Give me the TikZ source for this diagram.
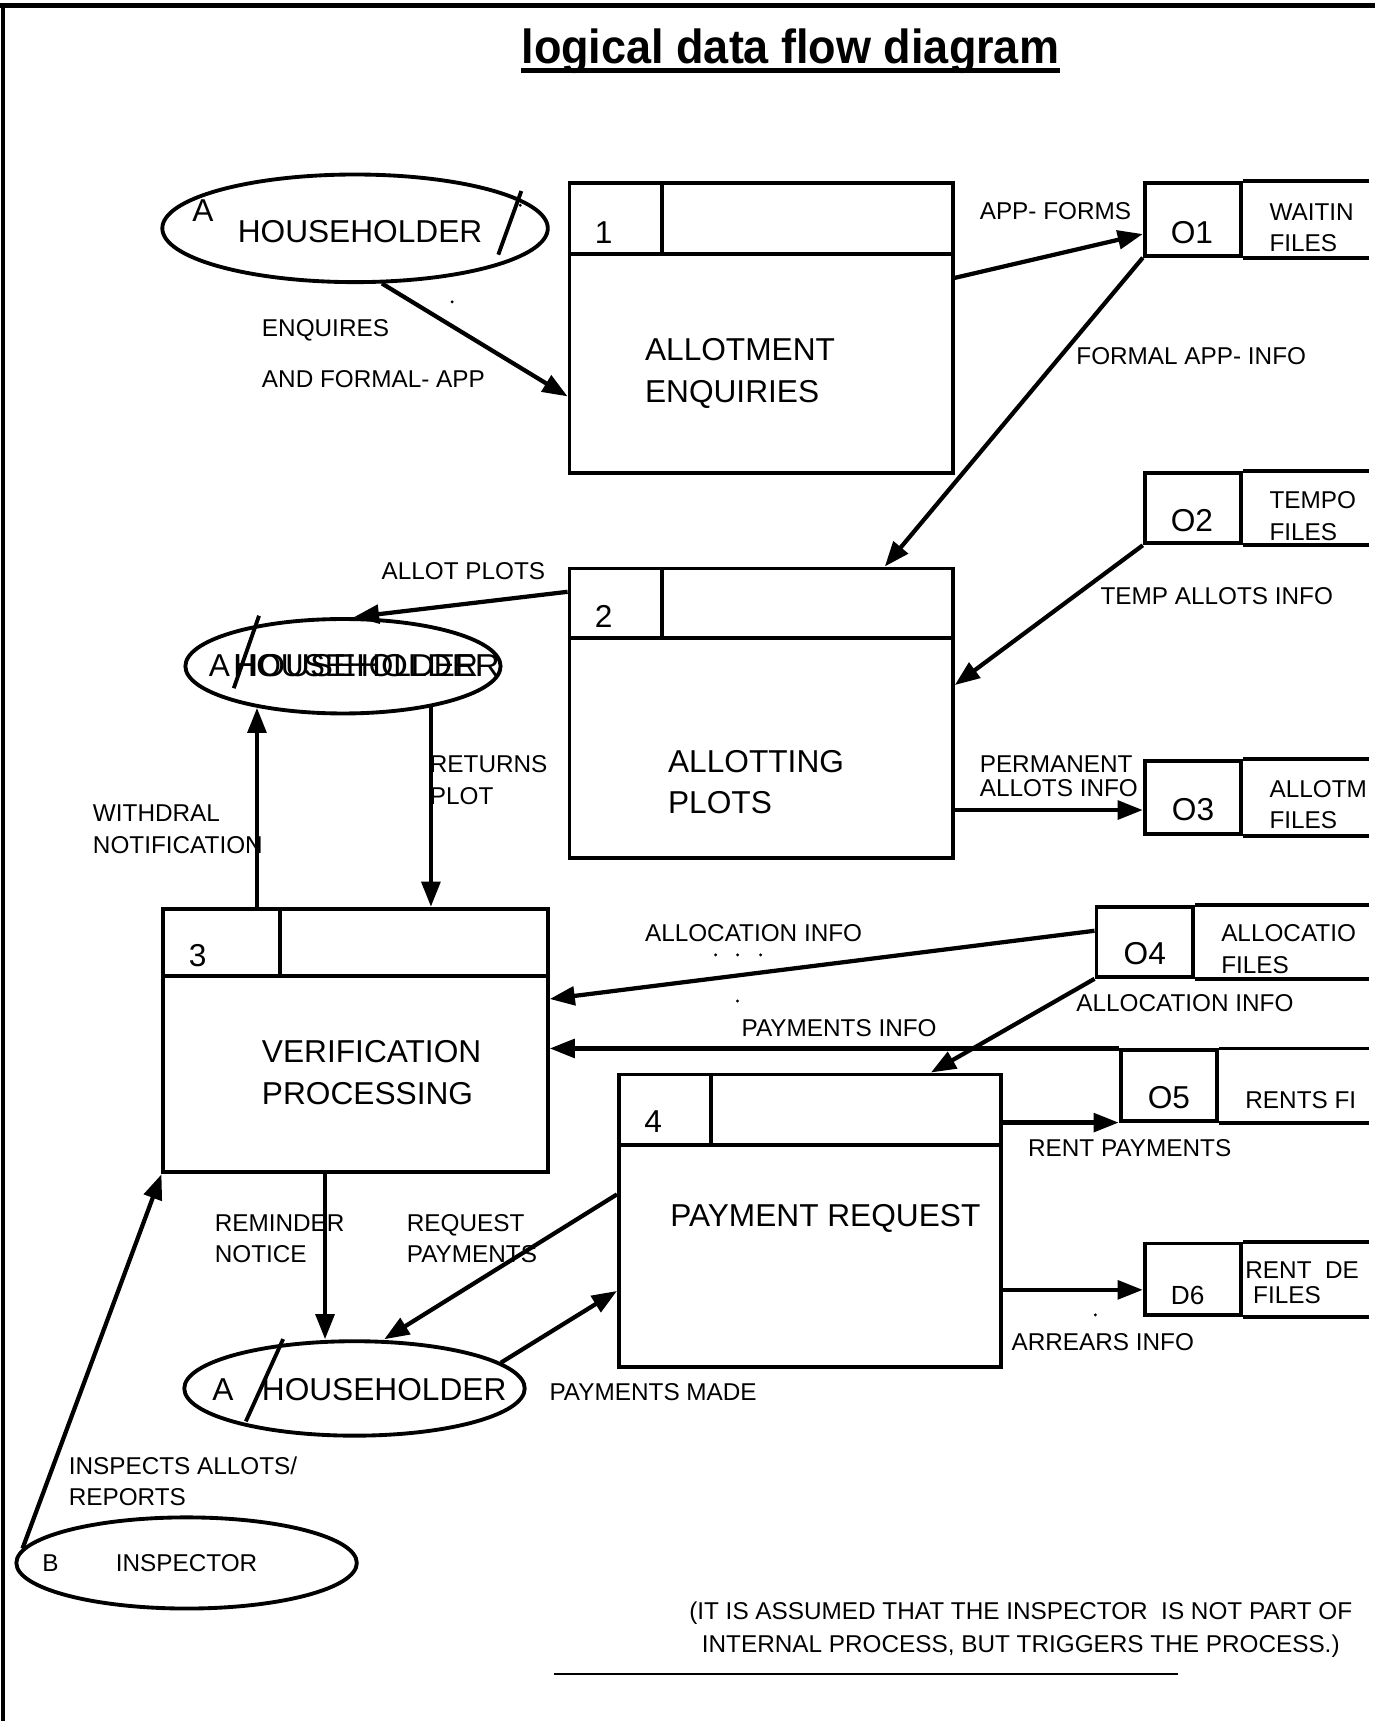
\documentclass[tikz,border=0pt]{standalone}
\usepackage{fontspec}
\setmainfont{Liberation Sans}
\usetikzlibrary{arrows.meta, positioning, calc, shapes.geometric}
\newcommand\lblfont{\fontsize{6.3}{8.2}\selectfont}
\newcommand\bigfont{\fontsize{8.2}{10.8}\selectfont}
\newcommand\ttlfont{\fontsize{12.4}{15}\selectfont\bfseries}
\newcommand\notefont{\fontsize{6.3}{8.5}\selectfont}

\begin{document}
\begin{tikzpicture}[x=0.01cm, y=-0.01cm, >={Triangle[length=6.5pt,width=4.8pt]},
  proc/.style={draw, line width=1pt, inner sep=0, minimum width=3.49cm, minimum height=2.64cm},
  store/.style={draw, line width=1pt, inner sep=0, minimum width=0.88cm, minimum height=0.65cm},
  ent/.style={draw, ellipse, line width=1pt, inner sep=0},
  flow/.style={->, line width=1.1pt},
  lbl/.style={font=\lblfont, inner sep=0, anchor=west, align=left},
  big/.style={font=\bigfont, inner sep=0, anchor=west, align=left}]
  \useasboundingbox (0,0) rectangle (1253,1568);
  \draw[line width=1.3pt] (0,5) -- (1253,5);
  \draw[line width=1pt] (3,5) -- (3,1568);
  \coordinate (rim) at (1247,0);

  \node[font=\ttlfont, inner sep=0] (title) at (720,47) {\scalebox{0.94}[1]{logical data flow diagram}};
  \draw[line width=1.3pt] ([yshift=-0.06cm]title.base west) -- ([yshift=-0.06cm]title.base east);

  % processes
  \node[proc] (p1) at (693.5,299) {};
  \node[proc] (p2) at (693.5,650) {};
  \node[proc, minimum width=3.5cm, minimum height=2.4cm] (p3) at (324,948) {};
  \node[proc, minimum width=3.48cm, minimum height=2.66cm] (p4) at (738,1112) {};
  \foreach \p/\h/\d in {p1/66/86, p2/65/86, p3/63/108, p4/66/86}{
    \draw[line width=1pt] ($(\p.north west)+(0,\h)$) -- ($(\p.north east)+(0,\h)$);
    \draw[line width=1pt] ($(\p.north west)+(\d,0)$) -- ++(0,\h);
  }
  \node[font=\bigfont, inner sep=0] (p1n) at (550,212) {1};
  \node[font=\bigfont, inner sep=0] (p2n) at (550,562) {2};
  \node[font=\bigfont, inner sep=0] (p3n) at (180,871) {3};
  \node[font=\bigfont, inner sep=0] (p4n) at (595,1022) {4};
  \node[big] (p1t) at (587,340) {ALLOTMENT\\ENQUIRIES};
  \node[big] (p2t) at (608,712.5) {ALLOTTING\\PLOTS};
  \node[big] (p3t) at (238,977) {VERIFICATION\\PROCESSING};
  \node[big] (p4t) at (610,1110) {PAYMENT REQUEST};

  % data stores
  \node[store, minimum height=0.66cm] (o1) at (1087,200) {};
  \node[store, minimum height=0.64cm] (o2) at (1087,463) {};
  \node[store, minimum height=0.67cm] (o3) at (1087,726.5) {};
  \node[store, minimum height=0.64cm] (o4) at (1043,858) {};
  \node[store, minimum height=0.64cm] (o5) at (1065,989) {};
  \node[store] (d6) at (1087,1165.5) {};
  \foreach \s in {o1,o2,o3,o4,o5,d6}{
    \draw[line width=1pt] (\s.north east) -- (\s.north east -| rim);
    \draw[line width=1pt] (\s.south east) -- (\s.south east -| rim);
  }
  \node[font=\bigfont, inner sep=0] (o1i) at (1086,212) {O1};
  \node[font=\bigfont, inner sep=0] (o2i) at (1086,474) {O2};
  \node[font=\bigfont, inner sep=0] (o3i) at (1087,738) {O3};
  \node[font=\bigfont, inner sep=0] (o4i) at (1043,869) {O4};
  \node[font=\bigfont, inner sep=0] (o5i) at (1065,1000) {O5};
  \node[font=\fontsize{6.8}{8}\selectfont, inner sep=0] (d6i) at (1082,1180) {D6};
  \node[lbl] (o1n) at (1156,207.5) {WAITIN\\FILES};
  \node[lbl] (o2n) at (1156,470.5) {TEMPO\\FILES};
  \node[lbl] (o3n) at (1156,733) {ALLOTM\\FILES};
  \node[lbl] (o4n) at (1112,864.5) {ALLOCATIO\\FILES};
  \node[lbl] (o5n) at (1134,1002) {RENTS FI};
  \node[lbl] (d6n) at (1134,1168.5) {RENT\ \ DE\\[-1.7pt]\hspace*{2pt}FILES};

  % external entities
  \node[ent, minimum width=3.51cm, minimum height=0.98cm] (hh1) at (323.5,208) {};
  \node[font=\bigfont, inner sep=0] (hh1a) at (185,192) {A};
  \node[font=\bigfont, inner sep=0] (hh1t) at (328,211) {HOUSEHOLDER};
  \draw[line width=1pt] (454,232) -- (475,174);

  \node[ent, minimum width=2.87cm, minimum height=0.86cm] (hh2) at (312.5,607) {};
  \node[font=\bigfont, inner sep=0] (hh2a) at (200,606) {A};
  \node[font=\bigfont, inner sep=0, anchor=west] (hh2t) at (212,606) {HOUSEHOLDER};
  \node[font=\bigfont, inner sep=0, anchor=west] (hh2u) at (212,606) {\scalebox{1.09}[1]{HOUSEHOLDER}};
  \draw[line width=1pt] (213,627) -- (236,561);

  \node[ent, minimum width=3.1cm, minimum height=0.86cm] (hh3) at (323,1265) {};
  \node[font=\bigfont, inner sep=0] (hh3a) at (203,1266) {A};
  \node[font=\bigfont, inner sep=0] (hh3t) at (350,1266) {HOUSEHOLDER};
  \draw[line width=1pt] (224,1295) -- (258,1220);

  \node[ent, minimum width=3.1cm, minimum height=0.83cm] (insp) at (170,1424) {};
  \node[font=\lblfont, inner sep=0] (inspb) at (46,1424) {B};
  \node[font=\lblfont, inner sep=0] (inspt) at (170,1424) {INSPECTOR};

  % flows
  \draw[flow] (hh1.-64) -- ($(p1.north west)+(0,196)$);
  \draw[flow] ($(p1.north east)+(0,88)$) -- ($(o1.north west)+(0,48)$);
  \draw[flow] (o1.south west) -- ($(p2.north west)+(289,0)$);
  \draw[flow] (o2.south west) -- ($(p2.north east)+(0,108)$);
  \coordinate (pa) at ($(o3.west)+(0,11.5)$);
  \draw[flow] (p2.east |- pa) -- (pa);
  \draw[flow] ($(p2.north west)+(0,23)$) -- ([xshift=0.1cm]hh2.north);
  \coordinate (w1) at ($(p3.north west)+(87,0)$);
  \draw[flow] (w1) -- (w1 |- hh2.206);
  \draw[flow] (hh2.-25) -- (hh2.-25 |- p3.north);
  \draw[flow] ($(o4.west)+(0,-10)$) -- ($(p3.north east)+(0,84)$);
  \draw[flow] (o4.south west) -- ($(p4.north west)+(286,0)$);
  \draw[flow] (o5.north west) -- (p3.east |- o5.north west);
  \draw[flow] (p4.east |- o5.south west) -- (o5.south west);
  \coordinate (ar) at ($(p4.north east)+(0,198)$);
  \draw[flow] (ar) -- (ar -| d6.west);
  \draw[flow] ($(p4.north west)+(0,111)$) -- ([xshift=0.27cm]hh3.north);
  \draw[flow] (hh3.10) -- ($(p4.north west)+(0,199)$);
  \coordinate (r1) at ($(p3.south west)+(149,0)$);
  \draw[flow] (r1) -- (r1 |- hh3.north);
  \draw[flow] (insp.175) -- (p3.south west);

  % flow labels
  \node[lbl] (l1) at (892,192) {APP- FORMS};
  \node[lbl] (l2a) at (238,301) {ENQUIRES};
  \node[lbl] (l2b) at (238,345) {AND FORMAL- APP};
  \node[lbl] (l3) at (980,324) {FORMAL APP- INFO};
  \node[lbl] (l4) at (347,520) {ALLOT PLOTS};
  \node[lbl] (l5) at (1002,543) {TEMP ALLOTS INFO};
  \node[lbl] (l6) at (892,707) {PERMANENT\\[-2pt]ALLOTS INFO};
  \node[lbl] (l7) at (84,755.5) {WITHDRAL\\NOTIFICATION};
  \node[lbl] (l8) at (391,710.5) {RETURNS\\PLOT};
  \node[lbl] (l9) at (587,850) {ALLOCATION INFO};
  \node[lbl] (l10) at (980,914) {ALLOCATION INFO};
  \node[lbl] (l11) at (675,937) {PAYMENTS INFO};
  \node[lbl] (l12) at (936,1046) {RENT PAYMENTS};
  \node[lbl] (l13) at (195,1128.5) {REMINDER\\NOTICE};
  \node[lbl] (l14) at (370,1128.5) {REQUEST\\PAYMENTS};
  \node[lbl] (l15) at (500,1268) {PAYMENTS MADE};
  \node[lbl] (l16) at (921,1223) {ARREARS INFO};
  \node[lbl] (l17) at (62,1349.5) {INSPECTS ALLOTS/\\REPORTS};
  \foreach \x/\y in {652/870, 672/870, 693/870, 672/912, 412/275, 474/187, 998/1198}
    \fill (\x,\y) circle (1.5);

  \node[font=\notefont, inner sep=0, align=center] (note) at (930,1485)
    {(IT IS ASSUMED THAT THE INSPECTOR\ \ IS NOT PART OF\\INTERNAL PROCESS, BUT TRIGGERS THE PROCESS.)};
  \draw[line width=0.5pt] (505,1525) -- (1073,1525);
\end{tikzpicture}
\end{document}
